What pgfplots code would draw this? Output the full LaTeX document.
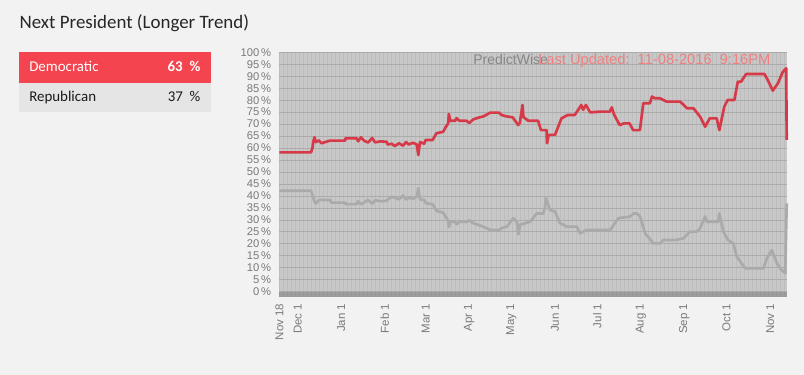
\documentclass[border=0pt]{standalone}
\usepackage{pgfplots}
\pgfplotsset{compat=1.18}
\usepackage{fontspec}
\setmainfont{Carlito}
\newfontfamily\arial{Liberation Sans}
\definecolor{pagebg}{HTML}{F2F2F2}
\definecolor{plotbg}{HTML}{C8C8C8}
\definecolor{demred}{HTML}{D63A48}
\definecolor{repgrey}{HTML}{AAAAAA}
\definecolor{boxred}{HTML}{F4444F}
\definecolor{boxgrey}{HTML}{E5E5E5}
\definecolor{ticktext}{HTML}{7A7A7A}
\definecolor{salmon}{HTML}{F08080}
\definecolor{vgrid}{HTML}{BDBDBD}
\definecolor{hgrid}{HTML}{ABABAB}
\begin{document}
\begin{tikzpicture}
\fill[pagebg] (0,0) rectangle (603pt,-281.25pt);
% left panel
\node[anchor=base west, inner sep=0pt, text=black!85, font=\fontsize{14.2}{16}\selectfont] at (14.5pt,-21.2pt) {Next President (Longer Trend)};
\fill[boxred] (14.25pt,-39pt) rectangle (158.25pt,-62.25pt);
\fill[boxgrey] (14.25pt,-62.25pt) rectangle (158.25pt,-84pt);
\node[anchor=base west, inner sep=0pt, text=white, font=\fontsize{11.2}{13}\selectfont] at (21.75pt,-53.8pt) {Democratic};
\node[anchor=base east, inner sep=0pt, text=white, font=\bfseries\fontsize{11.2}{13}\selectfont] at (150.5pt,-53.8pt) {63~~\%};
\node[anchor=base west, inner sep=0pt, text=black!90, font=\fontsize{11.2}{13}\selectfont] at (21.75pt,-75.75pt) {Republican};
\node[anchor=base east, inner sep=0pt, text=black!90, font=\fontsize{11.2}{13}\selectfont] at (150.5pt,-75.75pt) {37~~\%};
\begin{axis}[
  at={(209.55pt,-222.4pt)}, anchor=south west,
  width=380.7pt, height=183.2pt, scale only axis,
  xmin=0, xmax=361, ymin=-2, ymax=100,
  axis background/.style={fill=plotbg},
  axis line style={draw=none},
  major tick length=0pt, minor tick length=0pt,
  ytick={0,5,...,100},
  yticklabels={0\,\%,5\,\%,10\,\%,15\,\%,20\,\%,25\,\%,30\,\%,35\,\%,40\,\%,45\,\%,50\,\%,55\,\%,60\,\%,65\,\%,70\,\%,75\,\%,80\,\%,85\,\%,90\,\%,95\,\%,100\,\%},
  yticklabel style={font=\arial\fontsize{8.4}{9}\selectfont, text=ticktext, inner sep=0pt, anchor=east},
  yticklabel shift={6pt},
  xtick={0,13,44,75,104,135,165,196,226,257,288,318,349},
  xticklabels={Nov 18,Dec 1,Jan 1,Feb 1,Mar 1,Apr 1,May 1,Jun 1,Jul 1,Aug 1,Sep 1,Oct 1,Nov 1},
  xticklabel style={font=\arial\fontsize{8.6}{9}\selectfont, text=ticktext, inner sep=0pt, rotate=90, anchor=east},
  xticklabel shift={5.3pt},
  minor xtick={0,2.85,...,361},
  xmajorgrids=false, xminorgrids=true, ymajorgrids=true,
  minor x grid style={draw=vgrid, line width=0.45pt},
  major y grid style={draw=hgrid, line width=0.6pt},
  clip=false,
]
\addplot[fill=black!55, fill opacity=0.5, draw=none] coordinates {(0,-2) (361,-2) (361,0) (0,0)} -- cycle;
\addplot[repgrey, line width=2pt, line join=round] coordinates {
(0,42.2) (22.5,42.2) (24,39.5) (25,37.6) (26,36.8) (28,38.3) (36,38.3) (37,37.2) (46.7,37.2) (47,36.6) (55,36.6) (56,37.8)
(58,36.5) (60,37.2) (63,38.3) (66,36.8) (68,38.2) (72,37.8)
(76.3,38) (77,38.5) (80,39.7) (85,38.6) (88,40.2) (90,38.5) (92,39.2) (95,38.8) (97.7,39.7) (98.8,43.2) (100,38.5) (103,38.4) (104,37) (109,36.5) (111.7,33.8) (116.5,33) (118,31.5) (120,29.8) (120.5,27) (121.5,29.2)
(125,29.2) (126,28.2) (128,29.2) (133,29.2) (135,29.8) (138,28.6) (142,27.8) (145,27.2) (150,25.8) (156,25.8) (158,26.5) (161.7,27.2) (166.4,30.7) (169,29) (170,24) (171.2,28) (178.3,29.2)
(183,32.7) (187.8,32.7) (188.9,35.5) (189.5,39) (192.5,34.1) (196,33.5) (199.6,28.6) (204.4,27.2) (211.5,27.2) (213.8,24.4) (218.6,25.8) (235.2,25.8)
(241.1,30.7) (249.4,31.4) (252,32.7) (254.2,32.7) (256.5,31.4) (260.1,24.4) (266,20.2) (270.8,20.2) (273,21.6) (282,21.6) (287.3,22.3) (292.1,25.1) (296.9,25.1) (299.2,26.5)
(302.8,31.4) (304,29.2) (312.2,29.2) (312.9,32.7) (315.8,25) (319,21.6) (322.9,20.2) (325.3,14.6) (331.2,9.8) (344.2,9.8) (346.7,14) (350.2,17.4) (353.8,12) (356.1,9.8) (359.7,7.7) (360.8,36.9)
};
\addplot[demred, line width=2pt, line join=round] coordinates {
(0,58.2) (22.5,58.2) (23.5,60) (24.1,62.7) (25,64.5) (26,62.5) (28,63.2) (30,62) (32,62.4) (36,63.1) (46.7,63.1) (47,64.1) (55,64.1) (56,62.8) (58,64.5) (60,63.2) (63,62.3) (66,64.2) (68,62.4) (72,62.8) (76.3,62.6)
(77,61.5) (80,61.8) (82,60.8) (85,62.0) (88,61.0) (90,62.5) (92,61.5) (95,62.2) (97.7,61.5) (98.8,57.1) (100,62.5) (103,61.8) (104,63.4) (109,63.4) (111.7,66.2) (116.5,66.8) (118,68.5) (120,70.3) (120.5,74.2) (121.5,71.4)
(125,71.4) (126,72.5) (128,71.4) (133,71.4) (135,70.5) (138,72) (142,72.8) (145,73.2) (150,74.8) (156,74.8) (158,73.8) (161,73.3) (166,72.8) (169.8,69.6) (171,70.5) (172.9,78) (173.5,73) (177,71.4) (184,71.4)
(186,67.5) (190,67.5) (190.3,62) (191.5,65.5) (196,65.5) (200.6,72.4) (205,73.8) (210,73.8) (212,75.5) (214.7,78) (216,76) (218,78) (221,74.9) (228,75.2) (235,75.2) (236.4,77) (238,74) (242,69.6) (245,70.3) (249,70.3)
(251.6,67.5) (256.4,67.5) (258.8,78.7) (263.5,78.7) (265,81.5) (267,80.8) (270.6,80.8) (275.4,79.4) (285,79.4) (290,76.6) (294.5,76.6) (299.2,73.1) (302.8,68.9) (306,72.4) (311,72.4) (312.9,67.5)
(316.4,77.3) (318.8,80.1) (323.6,80.1) (326,87.7) (328.3,87.7) (331.9,90.9) (345,90.9) (347.3,88.4) (350.9,84) (354.5,87) (358,91.8) (360.4,93.3) (360.8,63.4)
};
\end{axis}
\node[anchor=base west, inner sep=0pt, text=black!47, font=\arial\fontsize{10.5}{12}\selectfont] at (354.75pt,-48pt) {PredictWise};
\node[anchor=base west, inner sep=0pt, text=salmon, font=\arial\fontsize{11}{12}\selectfont] at (403.5pt,-48pt) {Last Updated:\ \ 11-08-2016\ \ 9:16PM};
\end{tikzpicture}
\end{document}
